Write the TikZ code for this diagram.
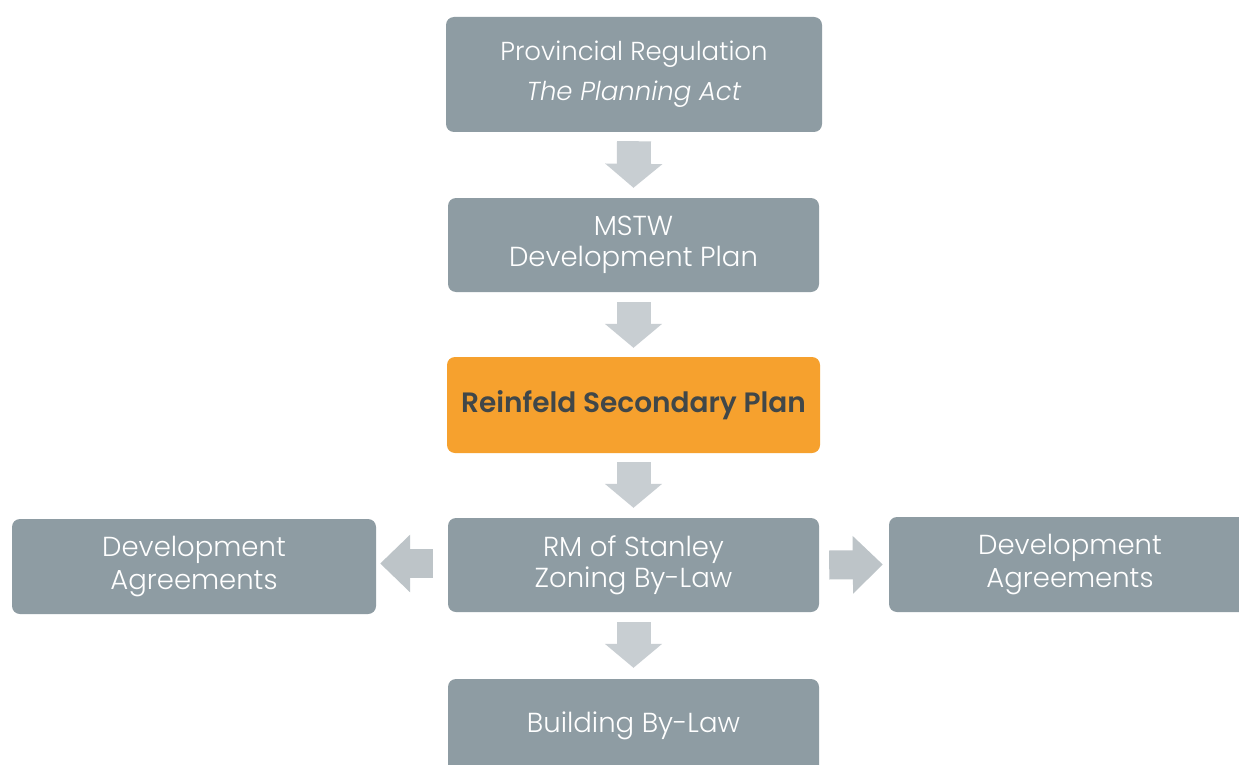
\documentclass[tikz,border=0pt]{standalone}
\usepackage{fontspec}
\setmainfont{Poppins}[UprightFont=* Light, ItalicFont=* Light Italic, BoldFont=* SemiBold]
\usetikzlibrary{arrows.meta}
\definecolor{boxgray}{HTML}{8E9CA3}
\definecolor{arrgray}{HTML}{C8CED2}
\definecolor{sidegray}{HTML}{BDC4C8}
\definecolor{orangebox}{HTML}{F6A12E}
\definecolor{darktext}{HTML}{404749}
\tikzset{
  box/.style={fill=boxgray, rounded corners=8pt, text=white, align=center,
    font=\fontsize{27.5}{31}\selectfont, inner sep=0pt},
  obox/.style={fill=orangebox, rounded corners=8pt, text=darktext, align=center,
    font=\fontsize{28}{30}\selectfont\bfseries, inner sep=0pt},
  varrow/.style={draw=arrgray, line width=34pt, line cap=butt,
    -{Triangle[width=56pt,length=24pt,fill=arrgray]}},
  harrow/.style={draw=sidegray, line width=29pt, line cap=butt,
    -{Triangle[width=56pt,length=30pt,fill=sidegray]}}
}
\begin{document}
\begin{tikzpicture}[x=1pt,y=-1pt]
\clip (0,0) rectangle (1239,765);
\fill[white] (0,0) rectangle (1239,765);
\node[box, minimum width=376pt, minimum height=115pt,
  font=\fontsize{26}{40}\selectfont] (b1) at (634,74.5)
  {Provincial Regulation\\\textit{The Planning Act}};
\node[box, minimum width=371pt, minimum height=94pt] (b2) at (633.5,245)
  {MSTW\\Development Plan};
\node[obox, minimum width=373pt, minimum height=96pt] (b3) at (633.5,405)
  {Reinfeld Secondary Plan};
\node[box, minimum width=371pt, minimum height=94pt] (b4) at (633.5,565)
  {RM of Stanley\\Zoning By-Law};
\node[box, minimum width=364pt, minimum height=95pt,
  font=\fontsize{27.5}{33}\selectfont] (bl) at (194,566.5)
  {Development\\Agreements};
\node[box, minimum width=362pt, minimum height=95pt,
  font=\fontsize{27.5}{33}\selectfont] (br) at (1070,564.5)
  {Development\\Agreements};
\node[box, minimum width=371pt, minimum height=94pt] (b5) at (633.5,726)
  {\raisebox{3pt}{Building By-Law}};
\draw[varrow] ([yshift=-9pt]b1.south) -- ([yshift=10pt]b2.north);
\draw[varrow] ([yshift=-10pt]b2.south) -- ([yshift=9pt]b3.north);
\draw[varrow] ([yshift=-9pt]b3.south) -- ([yshift=10pt]b4.north);
\draw[varrow] ([yshift=-10pt]b4.south) -- ([yshift=11pt]b5.north);
\draw[harrow] ([xshift=10pt]b4.east) -- ([xshift=-6pt]br.west);
\draw[harrow] ([xshift=-15pt,yshift=1.5pt]b4.west) -- ([xshift=4pt,yshift=3pt]bl.east);
\end{tikzpicture}
\end{document}
